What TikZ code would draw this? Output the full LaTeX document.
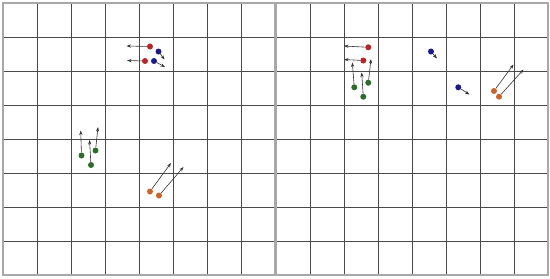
\documentclass[tikz,border=0pt]{standalone}
\usepackage{tikz}
\usetikzlibrary{positioning}
\usetikzlibrary{arrows.meta}

\definecolor{gridgray}{HTML}{4A4A4A}
\definecolor{framegray}{HTML}{A8A8A8}
\definecolor{dotred}{HTML}{B8262B}
\definecolor{dotblue}{HTML}{1C1A8A}
\definecolor{dotgreen}{HTML}{2F6B2C}
\definecolor{dotorange}{HTML}{C7652C}

\begin{document}
\begin{tikzpicture}[x=1pt, y=-1pt,
    gridline/.style={draw=gridgray, line width=0.8pt},
    frameline/.style={draw=framegray, line width=1.6pt},
    dot/.style={circle, inner sep=0pt, minimum size=6pt},
    reddot/.style={dot, fill=dotred},
    bluedot/.style={dot, fill=dotblue},
    greendot/.style={dot, fill=dotgreen},
    orangedot/.style={dot, fill=dotorange},
    vel/.style={draw=black!80, line width=0.6pt, -{Stealth[length=4.5pt,width=3.2pt]}}]

    \useasboundingbox (0,0) rectangle (550,279);

    % grids
    \foreach \x in {3,276}{
        \foreach \i in {1,...,7}{
            \draw[gridline] ({\x+34*\i},3) -- ({\x+34*\i},275);
            \draw[gridline] (\x,{3+34*\i}) -- ({\x+272},{3+34*\i});
        }
        \draw[frameline] (\x,3) rectangle ({\x+272},275);
    }

    % left grid
    \node[reddot] (rl1) at (150,46.5) {};
    \node[reddot] (rl2) at (145,61) {};
    \node[bluedot] (bl1) at (158.5,51.5) {};
    \node[bluedot] (bl2) at (154,61) {};
    \node[greendot] (gl1) at (81.5,155.5) {};
    \node[greendot] (gl2) at (91,165) {};
    \node[greendot] (gl3) at (95.5,150.5) {};
    \node[orangedot] (ol1) at (150,191.5) {};
    \node[orangedot] (ol2) at (159,195.5) {};

    \coordinate (trl1) at (126.5,46);
    \coordinate (trl2) at (127,60.5);
    \coordinate (tbl1) at (164.5,59.5);
    \coordinate (tbl2) at (165,67);
    \coordinate (tgl1) at (80.7,130.5);
    \coordinate (tgl2) at (89.5,140);
    \coordinate (tgl3) at (98,127);
    \coordinate (tol1) at (171,163);
    \coordinate (tol2) at (183.5,167);

    % right grid
    \node[reddot] (rr1) at (368.3,47.3) {};
    \node[reddot] (rr2) at (363.3,60.5) {};
    \node[bluedot] (br1) at (431,51.5) {};
    \node[bluedot] (br2) at (458.3,87.3) {};
    \node[greendot] (gr1) at (354.3,87.3) {};
    \node[greendot] (gr2) at (363.3,96.7) {};
    \node[greendot] (gr3) at (368.3,82.7) {};
    \node[orangedot] (or1) at (494,91) {};
    \node[orangedot] (or2) at (499,96.7) {};

    \coordinate (trr1) at (344,46);
    \coordinate (trr2) at (344,59.5);
    \coordinate (tbr1) at (437,58.5);
    \coordinate (tbr2) at (469.5,94.5);
    \coordinate (tgr1) at (352.3,62.5);
    \coordinate (tgr2) at (361.7,72.5);
    \coordinate (tgr3) at (371,59);
    \coordinate (tor1) at (513.5,64.5);
    \coordinate (tor2) at (523.5,69.5);

    % velocities
    \foreach \n in {rl1,rl2,bl1,bl2,gl1,gl2,gl3,ol1,ol2,rr1,rr2,br1,br2,gr1,gr2,gr3,or1,or2}{
        \draw[vel] (\n) -- (t\n);
    }

\end{tikzpicture}
\end{document}
